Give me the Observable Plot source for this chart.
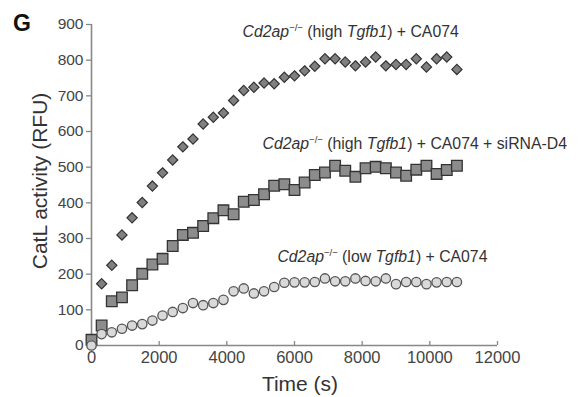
<!DOCTYPE html>
<html><head><meta charset="utf-8">
<script src="https://cdn.jsdelivr.net/npm/d3@7"></script>
<script src="https://cdn.jsdelivr.net/npm/@observablehq/plot@0.6"></script>
<style>body{margin:0;background:#fff} svg{display:block}</style>
</head><body><div id="chart"></div>
<script>
// Time points (s)
const times = [0,300,600,900,1200,1500,1800,2100,2400,2700,3000,3300,3600,3900,4200,4500,4800,5100,5400,5700,6000,6300,6600,6900,7200,7500,7800,8100,8400,8700,9000,9300,9600,9900,10200,10500,10800];
// Cd2ap-/- (high Tgfb1) + CA074  (diamonds; no visible point at t=0)
const highCA074 = [null,173,225,310,358,401,447,484,520,557,579,621,640,652,687,715,724,736,734,752,756,770,783,804,804,795,784,795,809,784,788,788,804,781,804,809,774];
// Cd2ap-/- (high Tgfb1) + CA074 + siRNA-D4  (squares)
const highCA074siRNA = [16,56,124,135,169,201,227,243,279,310,316,335,357,379,368,403,408,424,448,452,436,457,478,485,504,490,473,497,501,497,485,476,493,504,481,492,504];
// Cd2ap-/- (low Tgfb1) + CA074  (circles)
const lowCA074 = [0,32,37,47,56,60,70,84,94,105,119,113,119,128,152,160,146,152,164,176,177,177,178,188,180,180,188,181,180,188,172,178,178,172,177,178,178];

const xTicks = [0,2000,4000,6000,8000,10000,12000];
const yTicks = [0,100,200,300,400,500,600,700,800,900];

const toRows = vals => times.map((t,i)=>({t, v: vals[i]})).filter(d => d.v != null);

const font = "'Liberation Sans', Arial, Helvetica, sans-serif";

const plot = Plot.plot({
  width: 578, height: 397,
  marginLeft: 91, marginRight: 81, marginTop: 24, marginBottom: 52,
  x: {domain: [0, 12000]},
  y: {domain: [0, 900]},
  style: {fontFamily: font, color: "#444", background: "#fff", overflow: "visible"},
  marks: [
    Plot.axisY({ticks: yTicks, tickSize: 5, tickPadding: 3, fontSize: 15.5, label: null, stroke: "#888", strokeWidth: 1.3}),
    Plot.axisX({ticks: xTicks, tickFormat: d3.format("d"), tickSize: -4, tickPadding: 10, fontSize: 16.5, label: null, stroke: "#888", strokeWidth: 1.3}),
    Plot.ruleX([0], {stroke: "#888", strokeWidth: 1.6}),
    Plot.ruleY([0], {stroke: "#888", strokeWidth: 1.6}),
    Plot.dot(toRows(highCA074), {x: "t", y: "v", symbol: "diamond2", r: 4.6, fill: "#808080", stroke: "#333", strokeWidth: 1.2}),
    Plot.dot(toRows(highCA074siRNA), {x: "t", y: "v", symbol: "square", r: 6.0, fill: "#8c8c8c", stroke: "#333", strokeWidth: 1.3}),
    Plot.dot(toRows(lowCA074), {x: "t", y: "v", symbol: "circle", r: 4.7, fill: "#d9d9d9", stroke: "#555", strokeWidth: 1.3})
  ]
});

const svg = d3.select(plot);
const sx = plot.scale("x"), sy = plot.scale("y");

function annotate(xv, yv, parts) {
  const t = svg.append("text")
    .attr("x", sx.apply(xv)).attr("y", sy.apply(yv)).attr("text-anchor", "start")
    .attr("font-family", font).attr("font-size", 15.8).attr("fill", "#333");
  let shifted = false;
  for (const p of parts) {
    const ts = t.append("tspan").text(p.s);
    if (p.i) ts.attr("font-style", "italic");
    if (p.sup) { ts.attr("font-size", 9.5).attr("dy", -6); shifted = true; }
    else if (shifted) { ts.attr("dy", 6); shifted = false; }
  }
}
annotate(4480, 863, [{s:"Cd2ap", i:1},{s:"\u2212/\u2212", sup:1},{s:" (high "},{s:"Tgfb1", i:1},{s:") + CA074"}]);
annotate(5070, 549, [{s:"Cd2ap", i:1},{s:"\u2212/\u2212", sup:1},{s:" (high "},{s:"Tgfb1", i:1},{s:") + CA074 + siRNA-D4"}]);
annotate(5510, 234, [{s:"Cd2ap", i:1},{s:"\u2212/\u2212", sup:1},{s:" (low "},{s:"Tgfb1", i:1},{s:") + CA074"}]);

svg.append("text").attr("x", 13).attr("y", 30.5).attr("text-anchor", "start").attr("font-family", font)
  .attr("font-size", 23).attr("font-weight", 900).attr("fill", "#111").text("G");
svg.append("text").attr("transform", "translate(46.5,181) rotate(-90)").attr("text-anchor", "middle")
  .attr("font-family", font).attr("font-size", 21).attr("fill", "#333").text("CatL activity (RFU)");
svg.append("text").attr("x", 300).attr("y", 391).attr("text-anchor", "middle")
  .attr("font-family", font).attr("font-size", 21).attr("fill", "#333").text("Time (s)");

document.getElementById("chart").append(plot);
</script>
</body></html>
